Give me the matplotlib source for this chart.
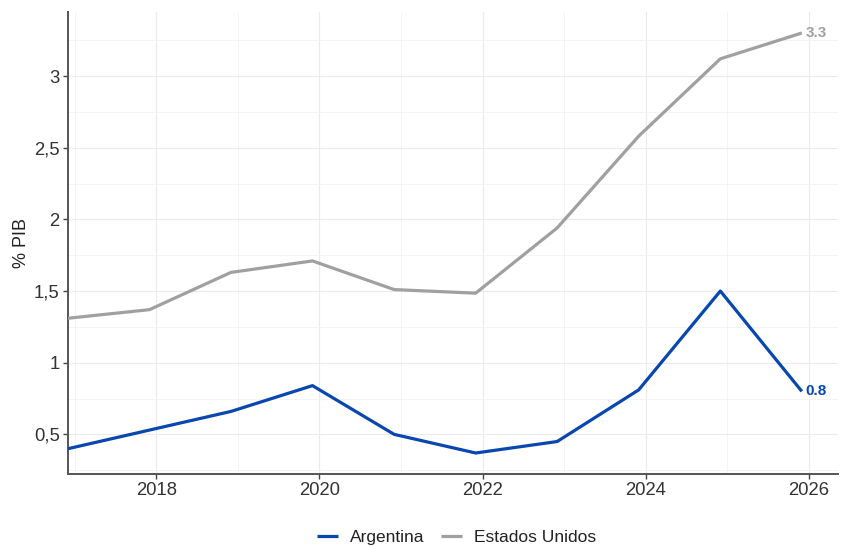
import matplotlib
matplotlib.use("Agg")
import matplotlib.pyplot as plt
import matplotlib.dates as mdates
from matplotlib.ticker import FixedLocator, FuncFormatter
import pandas as pd

plt.rcParams['font.family'] = ['Liberation Sans', 'DejaVu Sans']

dates = pd.to_datetime(['2016-12-01', '2017-12-01', '2018-12-01', '2019-12-01', '2020-12-01',
                        '2021-12-01', '2022-12-01', '2023-12-01', '2024-12-01', '2025-12-01'])
argentina = [0.40, 0.53, 0.66, 0.84, 0.50, 0.37, 0.45, 0.81, 1.50, 0.80]
estados_unidos = [1.31, 1.37, 1.63, 1.71, 1.51, 1.485, 1.94, 2.58, 3.12, 3.30]
series_names = ['Argentina', 'Estados Unidos']
colors = ['#0847AF', '#A0A0A0']
major_years = [2018, 2020, 2022, 2024, 2026]
minor_years = [2017, 2019, 2021, 2023, 2025]
y_major = [0.5, 1.0, 1.5, 2.0, 2.5, 3.0]
y_minor = [0.25, 0.75, 1.25, 1.75, 2.25, 2.75, 3.25]

fig = plt.figure(figsize=(8.41, 5.46), dpi=100)
ax = fig.add_axes([68/841, 72/546, (838-68)/841, (474-12)/546])

for vals, name, c in zip([argentina, estados_unidos], series_names, colors):
    ax.plot(dates, vals, color=c, lw=2.3, label=name, solid_capstyle='butt', zorder=3)
    ax.annotate(f"{vals[-1]:.1f}", xy=(dates[-1], vals[-1]), xytext=(2.5, 0),
                textcoords='offset points', ha='left', va='center',
                color=c, fontweight='bold', fontsize=11)

ymin = min(min(argentina), min(estados_unidos))
ymax = max(max(argentina), max(estados_unidos))
pad = 0.05 * (ymax - ymin)
ax.set_ylim(ymin - pad, ymax + pad)
ax.set_xlim(dates[0], dates[-1] + pd.Timedelta(days=162))

ax.xaxis.set_major_locator(FixedLocator([mdates.date2num(pd.Timestamp(f'{y}-01-01')) for y in major_years]))
ax.xaxis.set_minor_locator(FixedLocator([mdates.date2num(pd.Timestamp(f'{y}-01-01')) for y in minor_years]))
ax.xaxis.set_major_formatter(mdates.DateFormatter('%Y'))
ax.yaxis.set_major_locator(FixedLocator(y_major))
ax.yaxis.set_minor_locator(FixedLocator(y_minor))
ax.yaxis.set_major_formatter(FuncFormatter(lambda v, p: (f"{v:g}").replace('.', ',')))

ax.grid(which='major', color='#EBEBEB', lw=0.8, zorder=0)
ax.grid(which='minor', color='#F3F3F3', lw=0.6, zorder=0)
ax.tick_params(which='major', length=3.5, width=1, color='#444444', labelsize=13.3, labelcolor='#333333', pad=2.5)
ax.tick_params(which='minor', length=0)

for s in ['top', 'right']:
    ax.spines[s].set_visible(False)
for s in ['left', 'bottom']:
    ax.spines[s].set_color('#555555')
    ax.spines[s].set_linewidth(1.4)

ax.set_ylabel('% PIB', fontsize=13, color='#222222', labelpad=3)

fig.legend(loc='center', bbox_to_anchor=(457/841, 9/546), ncol=2, frameon=False,
           fontsize=12.5, handlelength=1.2, columnspacing=0.95, handletextpad=0.7,
           labelcolor='#222222')

fig.savefig('out.png', dpi=100, facecolor='white')
